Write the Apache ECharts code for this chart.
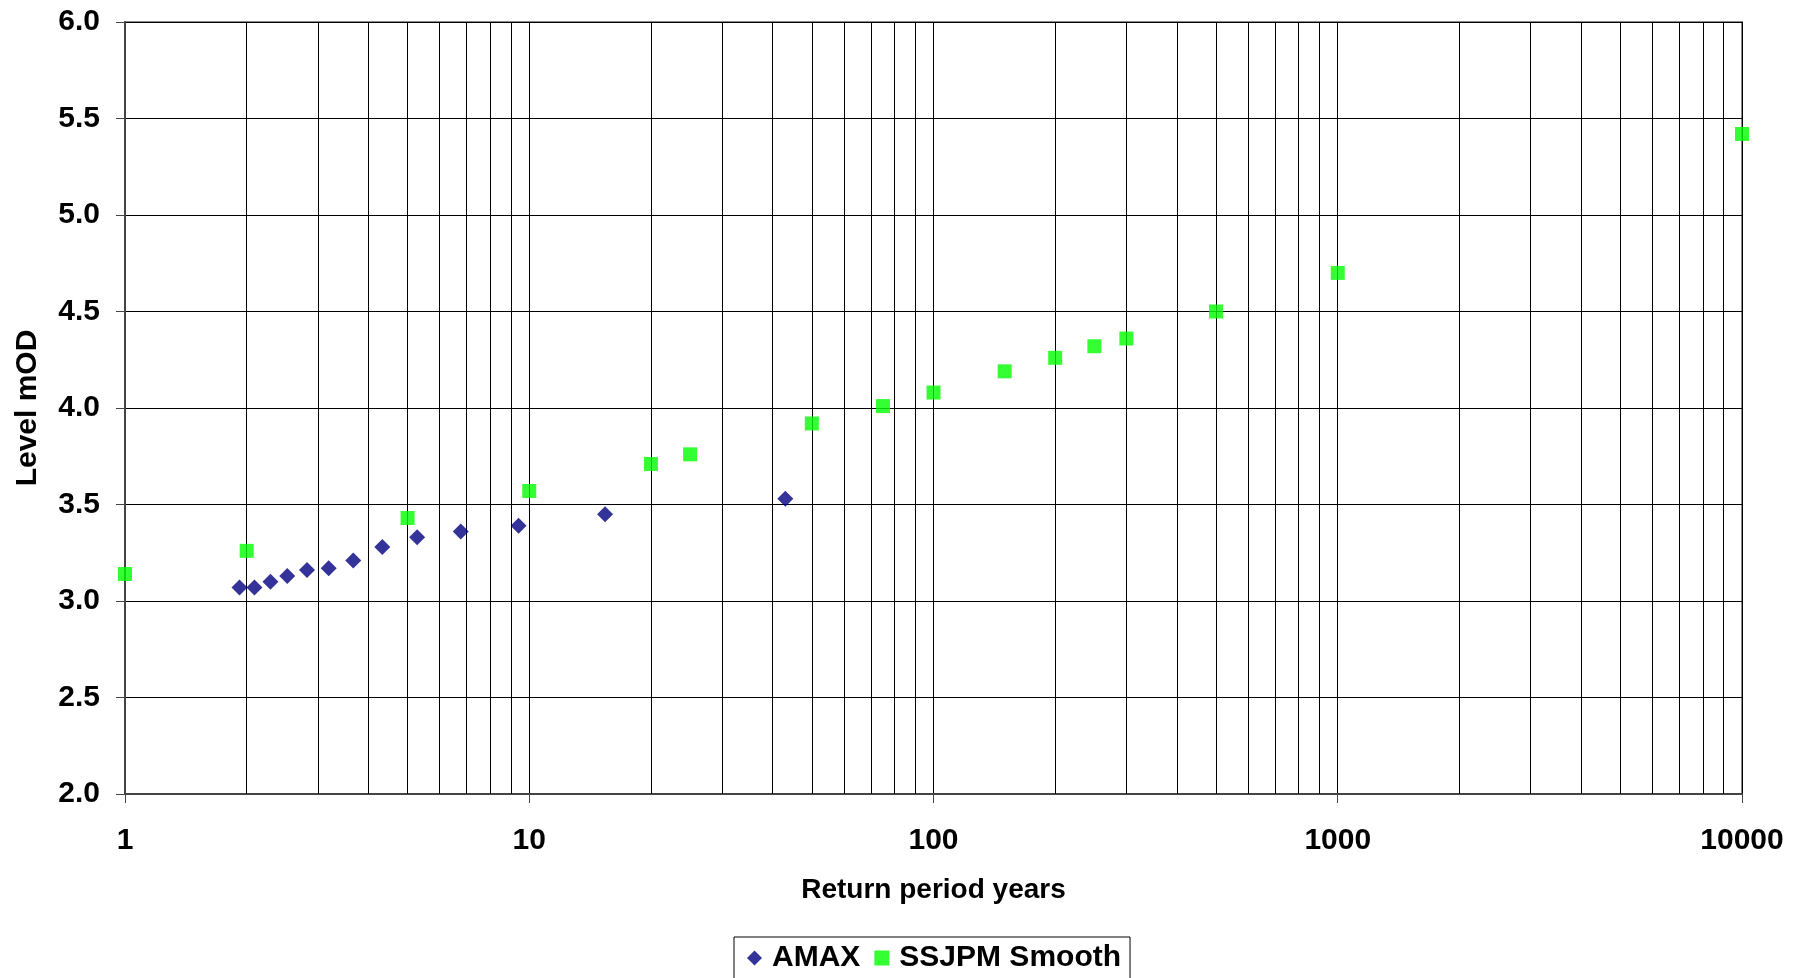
<!DOCTYPE html>
<html>
<head>
<meta charset="utf-8">
<title>Return period vs level</title>
<script src="https://cdn.jsdelivr.net/npm/echarts@6/dist/echarts.min.js"></script>
<style>
  html, body { margin: 0; padding: 0; background: #fff; }
  #chart { width: 1802px; height: 978px; }
</style>
</head>
<body>
<div id="chart"></div>
<script>
// Annual maxima (plotting positions) and smoothed joint-probability levels
const amaxPeriod = [1.92, 2.09, 2.29, 2.52, 2.82, 3.19, 3.67, 4.33, 5.28, 6.77, 9.41, 15.4, 43.0];
const amaxLevel  = [3.07, 3.07, 3.10, 3.13, 3.16, 3.17, 3.21, 3.28, 3.33, 3.36, 3.39, 3.45, 3.53];

const ssjpmPeriod = [1, 2, 5, 10, 20, 25, 50, 75, 100, 150, 200, 250, 300, 500, 1000, 10000];
const ssjpmLevel  = [3.14, 3.26, 3.43, 3.57, 3.71, 3.76, 3.92, 4.01, 4.08, 4.19, 4.26, 4.32, 4.36, 4.50, 4.70, 5.42];

// Intermediate log gridlines (2..9 within each decade)
const minorGrid = [2, 3, 4, 5, 6, 7, 8, 9,
                   20, 30, 40, 50, 60, 70, 80, 90,
                   200, 300, 400, 500, 600, 700, 800, 900,
                   2000, 3000, 4000, 5000, 6000, 7000, 8000, 9000];

const FONT = '"Liberation Sans", Arial, sans-serif';
const chart = echarts.init(document.getElementById('chart'));

chart.setOption({
  animation: false,
  backgroundColor: '#ffffff',
  textStyle: { fontFamily: FONT },
  grid: {
    left: 125, right: 60, top: 22, bottom: 184,
    show: true, borderColor: '#888888', borderWidth: 2, backgroundColor: 'transparent'
  },
  legend: {
    left: 734, top: 937,
    data: [
      { name: 'AMAX', icon: 'diamond' },
      { name: 'SSJPM Smooth', icon: 'rect' }
    ],
    itemWidth: 15, itemHeight: 15, itemGap: 14,
    padding: [6, 9, 6, 13],
    borderColor: '#000000', borderWidth: 1,
    textStyle: {
      fontFamily: FONT, fontSize: 30, fontWeight: 'bold', color: '#000',
      padding: [0, 0, 0, 5]
    }
  },
  xAxis: {
    type: 'log', logBase: 10, min: 1, max: 10000, splitNumber: 4,
    name: 'Return period years', nameLocation: 'middle', nameGap: 82,
    nameTextStyle: { fontFamily: FONT, fontSize: 28, fontWeight: 'bold', color: '#000' },
    axisLine: { show: true, lineStyle: { color: '#444', width: 2 } },
    axisTick: { show: true, length: 9, lineStyle: { color: '#444', width: 1 } },
    axisLabel: {
      margin: 32, fontFamily: FONT, fontSize: 30, fontWeight: 'bold', color: '#000',
      formatter: v => String(Math.round(v))
    },
    splitLine: { show: true, lineStyle: { color: '#000', width: 1 } },
    minorTick: { show: false }, minorSplitLine: { show: false }
  },
  yAxis: {
    type: 'value', min: 2, max: 6, interval: 0.5,
    name: 'Level mOD', nameLocation: 'middle', nameGap: 82,
    nameTextStyle: { fontFamily: FONT, fontSize: 30, fontWeight: 'bold', color: '#000' },
    axisLine: { show: true, lineStyle: { color: '#444', width: 2 } },
    axisTick: { show: true, length: 9, lineStyle: { color: '#444', width: 1 } },
    axisLabel: {
      margin: 25, fontFamily: FONT, fontSize: 30, fontWeight: 'bold', color: '#000',
      formatter: v => v.toFixed(1)
    },
    splitLine: { show: true, lineStyle: { color: '#000', width: 1 } }
  },
  series: [
    {
      name: 'gridlines', type: 'scatter', data: [], silent: true, z: 1,
      markLine: {
        z: 1, silent: true, symbol: 'none', animation: false,
        label: { show: false },
        lineStyle: { color: '#000', width: 1, type: 'solid' },
        emphasis: { disabled: true },
        data: minorGrid.map(v => ({ xAxis: v }))
      }
    },
    {
      name: 'AMAX', type: 'scatter', z: 10, clip: false,
      symbol: 'diamond', symbolSize: 16,
      itemStyle: { color: '#000080' },
      data: amaxPeriod.map((p, i) => [p, amaxLevel[i]])
    },
    {
      name: 'SSJPM Smooth', type: 'scatter', z: 10, clip: false,
      symbol: 'rect', symbolSize: 14,
      itemStyle: { color: '#00ff00' },
      data: ssjpmPeriod.map((p, i) => [p, ssjpmLevel[i]])
    }
  ]
});
</script>
</body>
</html>
